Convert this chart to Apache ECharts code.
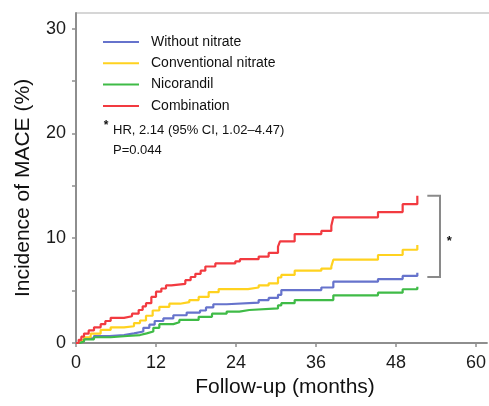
<!DOCTYPE html>
<html><head><meta charset="utf-8">
<script src="https://cdn.jsdelivr.net/npm/echarts@6/dist/echarts.min.js"></script>
<style>html,body{margin:0;padding:0;background:#fff}#c{width:489px;height:406px}</style>
</head><body><div id="c"></div>
<script>
// ---- data (month, cumulative incidence %) ----
const seriesNames = ['Without nitrate', 'Conventional nitrate', 'Nicorandil', 'Combination'];
const seriesColors = ['#6673cc', '#ffd21f', '#3fbb47', '#f23a40'];
const withoutNitrate = [[0,0],[0.5,0.2],[1.2,0.45],[2.7,0.67],[5,0.76],[7.2,0.92],[8.7,1.1],[10.1,1.45],[11.0,1.75],[11.8,2.1],[13.1,2.35],[14.6,2.65],[16.6,2.9],[18.6,3.1],[19.5,3.4],[20.6,3.7],[22.6,3.85],[27.4,4.1],[28.9,4.3],[30.3,4.6],[30.8,5.05],[36.8,5.3],[38.6,5.85],[45.3,6.1],[49.0,6.4],[51.2,6.7]];
const conventionalNitrate = [[0,0],[0.5,0.25],[1.2,0.55],[2.2,0.9],[3.7,1.25],[5.2,1.5],[7.2,1.6],[8.7,1.9],[9.6,2.15],[10.5,2.6],[11.5,3.1],[12.5,3.45],[14.0,3.75],[15.6,3.9],[17.0,4.1],[18.4,4.4],[19.9,4.85],[21.4,5.15],[25.8,5.3],[27.4,5.5],[28.9,5.7],[30.3,6.25],[30.8,6.5],[32.8,6.9],[36.8,7.1],[38.3,7.3],[38.6,7.95],[45.3,8.4],[49.0,8.9],[51.2,9.35]];
const nicorandil = [[0,0],[0.6,0.15],[1.2,0.35],[2.7,0.55],[5.2,0.67],[7.7,0.76],[9.6,0.92],[10.6,1.1],[11.6,1.45],[12.5,1.8],[14.6,1.98],[15.5,2.2],[18.4,2.5],[20.4,2.8],[22.6,3.0],[24.5,3.15],[26,3.3],[30.3,3.6],[30.8,3.8],[32.8,4.1],[38.6,4.55],[45.3,4.8],[49.0,5.13],[51.2,5.38]];
const combination = [[0,0],[0.4,0.3],[0.8,0.6],[1.2,0.9],[1.9,1.2],[2.7,1.5],[3.7,1.8],[4.4,2.1],[5.2,2.4],[7.2,2.55],[8.4,2.8],[9.4,3.15],[10.0,3.5],[10.5,3.8],[11.3,4.4],[12.0,4.9],[12.8,5.2],[13.5,5.5],[14.3,5.65],[16.4,6.0],[17.2,6.3],[17.9,6.6],[18.7,6.9],[19.4,7.3],[20.9,7.6],[23.9,7.8],[24.6,8.0],[27.4,8.25],[28.9,8.6],[30.3,9.2],[30.6,9.7],[32.8,10.4],[36.8,10.7],[38.3,11.2],[38.6,12.0],[45.3,12.5],[49.0,13.25],[51.2,14.05]];
const xTicks = [0, 12, 24, 36, 48, 60];
const yTicks = [0, 5, 10, 15, 20, 25, 30];
const yLabels = [0, 10, 20, 30];
const xTitle = 'Follow-up (months)';
const yTitle = 'Incidence of MACE (%)';
const noteLines = ['HR, 2.14 (95% CI, 1.02\u20134.47)', 'P=0.044'];
// bracket spans (data units): from combination end down to just below "without nitrate" end
const bracketX = [52.7, 54.6];
const bracketY = [14.05, 6.3];
const bracketStarPos = [56, 10];

const FONT = '"Liberation Sans", Arial, Helvetica, sans-serif';
const allData = [withoutNitrate, conventionalNitrate, nicorandil, combination];
const chart = echarts.init(document.getElementById('c'), null, {renderer: 'canvas'});
const axisCol = '#8e8e8e';

chart.setOption({
  animation: false,
  backgroundColor: '#fff',
  grid: {left: 76, right: 0, top: 13, bottom: 63},
  xAxis: {
    type: 'value', min: 0, max: 61.64,
    axisLine: {show: true, lineStyle: {color: axisCol, width: 2}},
    axisTick: {show: true, length: 4, customValues: xTicks, lineStyle: {color: axisCol, width: 1.5}},
    axisLabel: {customValues: xTicks, fontSize: 18, color: '#1a1a1a', margin: 11, fontFamily: FONT},
    splitLine: {show: false}
  },
  yAxis: {
    type: 'value', min: 0, max: 31.5,
    axisLine: {show: true, lineStyle: {color: axisCol, width: 2}},
    axisTick: {show: true, length: 4, customValues: yTicks, lineStyle: {color: axisCol, width: 1.5}},
    axisLabel: {customValues: yLabels, fontSize: 18, color: '#1a1a1a', margin: 10, fontFamily: FONT},
    splitLine: {show: false}
  },
  legend: {
    orient: 'vertical', left: 103, top: 34, padding: 0,
    icon: 'rect', itemWidth: 36, itemHeight: 2, itemGap: 5.3,
    data: seriesNames,
    textStyle: {fontSize: 14, lineHeight: 16, color: '#111', fontFamily: FONT, padding: [0, 0, 0, 7]}
  },
  series: seriesNames.map((n, i) => ({
    name: n, type: 'line', step: 'end', symbol: 'none',
    data: allData[i],
    lineStyle: {color: seriesColors[i], width: 2.2},
    itemStyle: {color: seriesColors[i]},
    z: 2 + i
  }))
});

const p1 = chart.convertToPixel({gridIndex: 0}, [bracketX[0], bracketY[0]]);
const p2 = chart.convertToPixel({gridIndex: 0}, [bracketX[1], bracketY[1]]);
const ps = chart.convertToPixel({gridIndex: 0}, bracketStarPos);

chart.setOption({
  graphic: [
    {type: 'line', shape: {x1: 76, y1: 13, x2: 489, y2: 13}, style: {stroke: '#d6d6d6', lineWidth: 2}, silent: true},
    {type: 'polyline', shape: {points: [[p1[0], p1[1]], [p2[0], p1[1]], [p2[0], p2[1]], [p1[0], p2[1]]]},
      style: {stroke: '#8a8a8a', lineWidth: 2, fill: null}},
    {type: 'text', x: ps[0], y: ps[1] + 3, style: {text: '*', font: 'bold 13px ' + FONT, fill: '#111', textAlign: 'center', textVerticalAlign: 'middle'}},
    {type: 'text', x: 106, y: 126, style: {text: '*', font: 'bold 12px ' + FONT, fill: '#111', textAlign: 'center', textVerticalAlign: 'middle'}},
    {type: 'text', x: 113, y: 130, style: {text: noteLines[0], font: '13px ' + FONT, fill: '#111', textAlign: 'left', textVerticalAlign: 'middle'}},
    {type: 'text', x: 113, y: 150, style: {text: noteLines[1], font: '13px ' + FONT, fill: '#111', textAlign: 'left', textVerticalAlign: 'middle'}},
    {type: 'text', x: 285, y: 387, style: {text: xTitle, font: '21px ' + FONT, fill: '#111', textAlign: 'center', textVerticalAlign: 'middle'}},
    {type: 'text', x: 23, y: 188, rotation: Math.PI / 2, style: {text: yTitle, font: '21px ' + FONT, fill: '#111', textAlign: 'center', textVerticalAlign: 'middle'}}
  ]
});
</script></body></html>
